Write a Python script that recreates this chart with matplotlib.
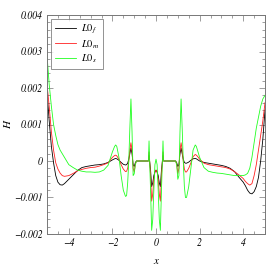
import matplotlib
matplotlib.use("Agg")
import matplotlib.pyplot as plt
from matplotlib.ticker import MultipleLocator

plt.rcParams['mathtext.fontset'] = 'stix'

# values (x, then H for each run)
x = [-5.0, -4.9, -4.8, -4.7, -4.6, -4.5, -4.4, -4.3, -4.2, -4.1, -4.0,
     -3.8, -3.6, -3.4, -3.2, -3.0, -2.8, -2.6, -2.4, -2.2, -2.0,
     -1.9, -1.85, -1.8, -1.7, -1.6, -1.5, -1.4,
     -1.35, -1.3, -1.25, -1.2, -1.15, -1.1, -1.05, -1.0, -0.95, -0.9,
     -0.6, -0.4, -0.35, -0.32, -0.25, -0.2, -0.15, -0.1, -0.05,
     0.0,
     0.05, 0.1, 0.15, 0.2, 0.25, 0.32, 0.35, 0.4, 0.6,
     0.9, 0.95, 1.0, 1.05, 1.1, 1.15, 1.2, 1.25, 1.3, 1.35,
     1.4, 1.5, 1.6, 1.7, 1.8, 1.85, 1.9,
     2.0, 2.2, 2.4, 2.6, 2.8, 3.0, 3.2, 3.4, 3.6, 3.8,
     4.0, 4.1, 4.2, 4.3, 4.4, 4.5, 4.6, 4.7, 4.8, 4.9, 5.0]

h_f = [0.0019, 0.0011, 0.0004, -0.00005, -0.0004, -0.00058, -0.00065, -0.00066, -0.00062, -0.00056, -0.0005,
       -0.00038, -0.00026, -0.00018, -0.00015, -0.00013, -0.00011, -0.0001, -0.00008, -0.00004, 0.00003,
       0.00006, 0.00007, 0.00006, 0.00002, -0.00004, -0.00009, -0.00011,
       -0.0001, -0.00006, 0.00005, 0.0002, 0.00035, 0.0002, -0.0001, -0.00015, -0.00005, 0.0,
       0.0, 0.0, 0.0, 0.00015, -0.00025, -0.0007, -0.0006, -0.0004, -0.0003,
       -0.00025,
       -0.0003, -0.0004, -0.0006, -0.0007, -0.00025, 0.00015, 0.0, 0.0, 0.0,
       0.0, -0.00005, -0.00015, -0.0001, 0.0002, 0.00035, 0.0002, 0.00005, -0.00004, -0.00006,
       -0.00006, -0.00003, 0.00002, 0.00006, 0.00007, 0.00006, 0.00004,
       0.0, -0.00004, -0.00006, -0.00008, -0.0001, -0.00012, -0.00015, -0.0002, -0.00029, -0.00044,
       -0.00058, -0.00068, -0.0008, -0.00088, -0.0009, -0.00084, -0.0007, -0.00045, 0.0, 0.0006, 0.0014]

h_m = [0.0021, 0.0015, 0.0008, 0.0003, -0.00005, -0.00022, -0.00033, -0.0004, -0.00042, -0.00041, -0.0004,
       -0.00034, -0.00027, -0.00023, -0.0002, -0.00018, -0.00017, -0.00014, -0.0001, -0.00005, 0.0001,
       0.00015, 0.00016, 0.00014, 0.00005, -0.0001, -0.00022, -0.00029,
       -0.00028, -0.0002, 0.0, 0.0003, 0.0005, 0.0003, -0.0002, -0.0003, -0.0001, 0.0,
       0.0, 0.0, 0.0, 0.00025, -0.0004, -0.0011, -0.0009, -0.0005, -0.0003,
       -0.00025,
       -0.0003, -0.0005, -0.0009, -0.0011, -0.0004, 0.00025, 0.0, 0.0, 0.0,
       0.0, -0.0001, -0.00034, -0.0002, 0.0003, 0.0005, 0.0003, 0.0, -0.00022, -0.0003,
       -0.0003, -0.0002, -0.00005, 0.00012, 0.00018, 0.00016, 0.00013,
       0.00005, -0.00006, -0.0001, -0.00012, -0.00014, -0.00016, -0.00018, -0.00022, -0.00029, -0.00038,
       -0.00048, -0.00056, -0.00062, -0.00066, -0.00062, -0.0004, -0.0001, 0.0003, 0.0007, 0.0011, 0.0016]

h_s = [0.0029, 0.0021, 0.0015, 0.001, 0.0007, 0.00045, 0.0003, 0.0002, 0.0001, 0.0, -0.0001,
       -0.00018, -0.00025, -0.00028, -0.0003, -0.0003, -0.00031, -0.0003, -0.00025, -0.00012, 0.00025,
       0.0004, 0.00044, 0.0004, 0.0001, -0.0004, -0.0008, -0.00097,
       -0.00095, -0.0006, 0.0, 0.0009, 0.0017, 0.0008, -0.0004, -0.00035, -0.0001, 0.0,
       0.0, 0.0, 0.0, 0.00055, -0.0008, -0.0019, -0.0016, -0.0008, -0.0001,
       0.00005,
       -0.0001, -0.0008, -0.0016, -0.0019, -0.0008, 0.00055, 0.0, 0.0, 0.0,
       0.0, -0.0001, -0.0005, -0.0004, 0.0008, 0.0017, 0.0009, 0.0, -0.0007, -0.001,
       -0.001, -0.0007, -0.0002, 0.0003, 0.00044, 0.0004, 0.0003,
       0.0001, -0.00018, -0.00028, -0.00031, -0.00033, -0.00034, -0.00036, -0.00038, -0.0004, -0.0004,
       -0.0004, -0.00038, -0.00034, -0.0002, 0.0001, 0.0005, 0.0009, 0.0012, 0.0015, 0.0017, 0.0018]

labels = [r'$\mathit{L0}_{f}$', r'$\mathit{L0}_{m}$', r'$\mathit{L0}_{s}$']
yticks = [-0.002, -0.001, 0, 0.001, 0.002, 0.003, 0.004]
ytick_labels = ['\u22120.002', '\u22120.001', '0', '0.001', '0.002', '0.003', '0.004']
xticks = [-4, -2, 0, 2, 4]
xtick_labels = ['\u22124', '\u22122', '0', '2', '4']

font = dict(family='STIXGeneral', style='italic', size=7)

fig = plt.figure(figsize=(2.79, 2.67), dpi=100)
ax = fig.add_axes([0.1685, 0.1236, 0.7814, 0.8202])

ax.plot(x, h_f, color='black', lw=0.6, label=labels[0])
ax.plot(x, h_m, color='#ff2020', lw=0.6, label=labels[1])
ax.plot(x, h_s, color='#20ff20', lw=0.6, label=labels[2])

ax.set_xlim(-5, 5)
ax.set_ylim(-0.002, 0.004)
ax.set_xticks(xticks, xtick_labels, fontdict=font)
ax.set_yticks(yticks, ytick_labels, fontdict=font)
ax.xaxis.set_minor_locator(MultipleLocator(0.5))
ax.yaxis.set_minor_locator(MultipleLocator(0.0002))
ax.tick_params(which='both', direction='in', top=True, right=True,
               color='#777777', width=0.5, pad=3)
ax.tick_params(which='major', length=4)
ax.tick_params(which='minor', length=2)
for s in ax.spines.values():
    s.set_color('#777777')
    s.set_linewidth(0.7)

ax.set_xlabel('x', fontdict=dict(family='STIXGeneral', style='italic', size=8), labelpad=6)
ax.set_ylabel('H', fontdict=dict(family='STIXGeneral', style='italic', size=8), labelpad=1)

leg = ax.legend(loc='upper left', fontsize=7.5, fancybox=False, borderaxespad=0.4,
                handlelength=2.0, handletextpad=0.5, borderpad=0.35, labelspacing=0.2)
leg.get_frame().set_edgecolor('#777777')
leg.get_frame().set_linewidth(0.7)

fig.savefig('out.png', dpi=100)
